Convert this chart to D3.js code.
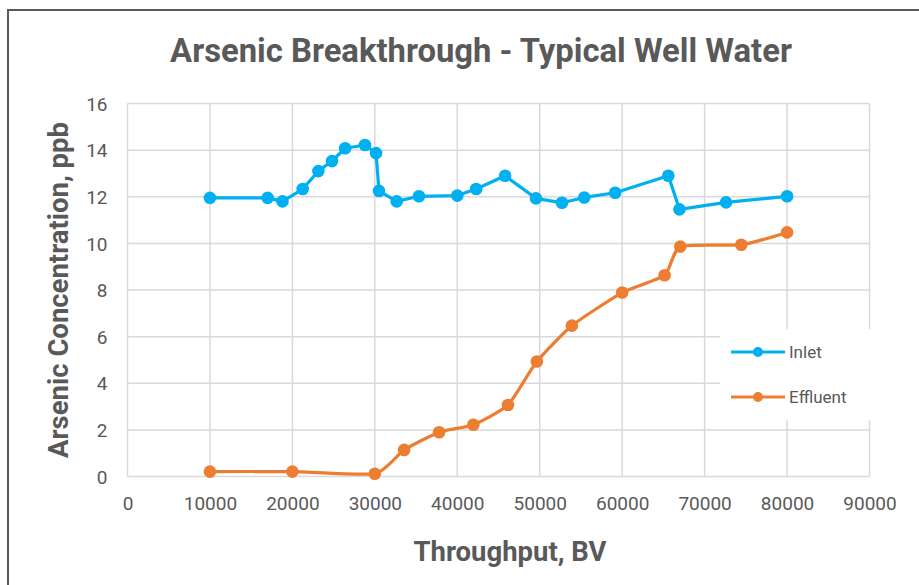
<!DOCTYPE html>
<html>
<head>
<meta charset="utf-8">
<script src="https://cdn.jsdelivr.net/npm/d3@7"></script>
<style>
  body { margin: 0; background: #fff; }
  svg { display: block; }
  text { font-family: Roboto, "Noto Sans", sans-serif; fill: #595959; }
</style>
</head>
<body>
<div id="chart"></div>
<script>
// chart values
const inletBV = [10000, 17000, 18800, 21250, 23150, 24800, 26400, 28800, 30150, 30500, 32650, 35350,
                 40000, 42300, 45800, 49550, 52700, 55400, 59150, 65600, 66950, 72600, 80000];
const inletPpb = [11.95, 11.95, 11.8, 12.33, 13.1, 13.53, 14.08, 14.22, 13.87, 12.25, 11.8, 12.02,
                  12.05, 12.33, 12.9, 11.93, 11.74, 11.97, 12.17, 12.9, 11.46, 11.76, 12.02];

const effluentBV = [10000, 20000, 30000, 33550, 37800, 41950, 46150, 49650, 53900, 60000, 65150, 67050, 74450, 80000];
const effluentPpb = [0.21, 0.21, 0.12, 1.14, 1.9, 2.22, 3.07, 4.93, 6.47, 7.89, 8.63, 9.86, 9.94, 10.47];

const xTicks = [0, 10000, 20000, 30000, 40000, 50000, 60000, 70000, 80000, 90000];
const yTicks = [0, 2, 4, 6, 8, 10, 12, 14, 16];
const seriesNames = ['Inlet', 'Effluent'];
const seriesColors = ['#00B0F0', '#ED7D31'];

const chartTitle = 'Arsenic Breakthrough - Typical Well Water';
const xTitle = 'Throughput, BV';
const yTitle = 'Arsenic Concentration, ppb';

const width = 919, height = 585;
const plot = { left: 127.5, right: 869.5, top: 103.5, bottom: 476.5 };

const svg = d3.select('#chart').append('svg')
    .attr('width', width)
    .attr('height', height);

// outer chart frame (right and bottom run off the picture)
svg.append('rect')
    .attr('x', 8).attr('y', 10)
    .attr('width', width + 20).attr('height', height + 20)
    .attr('fill', '#fff')
    .attr('stroke', '#595959')
    .attr('stroke-width', 2);

const x = d3.scaleLinear().domain([0, 90000]).range([plot.left, plot.right]);
const y = d3.scaleLinear().domain([0, 16]).range([plot.bottom, plot.top]);

// grid
const grid = svg.append('g').attr('stroke', '#D9D9D9').attr('stroke-width', 1.5);
grid.selectAll('line.h').data(yTicks).join('line')
    .attr('class', 'h')
    .attr('x1', plot.left).attr('x2', plot.right)
    .attr('y1', d => y(d)).attr('y2', d => y(d));
grid.selectAll('line.v').data(xTicks).join('line')
    .attr('class', 'v')
    .attr('y1', plot.top).attr('y2', plot.bottom)
    .attr('x1', d => x(d)).attr('x2', d => x(d));

// axes (labels only, lines come from the grid)
const xAxis = svg.append('g')
    .attr('transform', `translate(0,${plot.bottom})`)
    .call(d3.axisBottom(x).tickValues(xTicks).tickFormat(d3.format('d')).tickSize(0).tickPadding(20));
const yAxis = svg.append('g')
    .attr('transform', `translate(${plot.left},0)`)
    .call(d3.axisLeft(y).tickValues(yTicks).tickSize(0).tickPadding(20));
[xAxis, yAxis].forEach(a => {
    a.select('.domain').remove();
    a.selectAll('text')
        .attr('font-size', 19)
        .attr('font-family', 'Roboto, sans-serif')
        .attr('fill', '#595959');
});
yAxis.selectAll('text').attr('dy', '0.35em');

// series
const series = [
    { name: seriesNames[0], color: seriesColors[0], curve: d3.curveLinear,
      pts: inletBV.map((d, i) => [d, inletPpb[i]]) },
    { name: seriesNames[1], color: seriesColors[1], curve: d3.curveCardinal.tension(0.45),
      pts: effluentBV.map((d, i) => [d, effluentPpb[i]]) }
];

const line = d3.line().x(d => x(d[0])).y(d => y(d[1]));

series.forEach(s => {
    const g = svg.append('g');
    g.append('path')
        .attr('d', line.curve(s.curve)(s.pts))
        .attr('fill', 'none')
        .attr('stroke', s.color)
        .attr('stroke-width', 3.2)
        .attr('stroke-linejoin', 'round');
    g.selectAll('circle').data(s.pts).join('circle')
        .attr('cx', d => x(d[0]))
        .attr('cy', d => y(d[1]))
        .attr('r', 6.3)
        .attr('fill', s.color);
});

// legend
const legend = svg.append('g');
legend.append('rect')
    .attr('x', 720).attr('y', 329)
    .attr('width', 151).attr('height', 91)
    .attr('fill', '#fff');
const item = legend.selectAll('g.item').data(series).join('g')
    .attr('class', 'item')
    .attr('transform', (d, i) => `translate(731,${352 + i * 45})`);
item.append('line')
    .attr('x1', 0).attr('x2', 54)
    .attr('stroke', d => d.color)
    .attr('stroke-width', 3.2);
item.append('circle')
    .attr('cx', 27).attr('r', 5)
    .attr('fill', d => d.color);
item.append('text')
    .attr('x', 58).attr('dy', '0.35em')
    .attr('font-size', 17)
    .text(d => d.name);

// titles, fitted to the widths seen in the reference
function fit(sel, target) {
    const w = sel.node().getComputedTextLength();
    const fs = parseFloat(sel.attr('font-size'));
    sel.attr('font-size', fs * target / w);
}

const title = svg.append('text')
    .attr('x', 481).attr('y', 62)
    .attr('text-anchor', 'middle')
    .attr('font-weight', 'bold')
    .attr('font-size', 28)
    .text(chartTitle);
fit(title, 622);

const xt = svg.append('text')
    .attr('x', 510).attr('y', 561)
    .attr('text-anchor', 'middle')
    .attr('font-weight', 'bold')
    .attr('font-size', 22)
    .text(xTitle);
fit(xt, 193);

const yt = svg.append('text')
    .attr('transform', `translate(68,${(plot.top + plot.bottom) / 2}) rotate(-90)`)
    .attr('text-anchor', 'middle')
    .attr('font-weight', 'bold')
    .attr('font-size', 22)
    .text(yTitle);
fit(yt, 336);
</script>
</body>
</html>
